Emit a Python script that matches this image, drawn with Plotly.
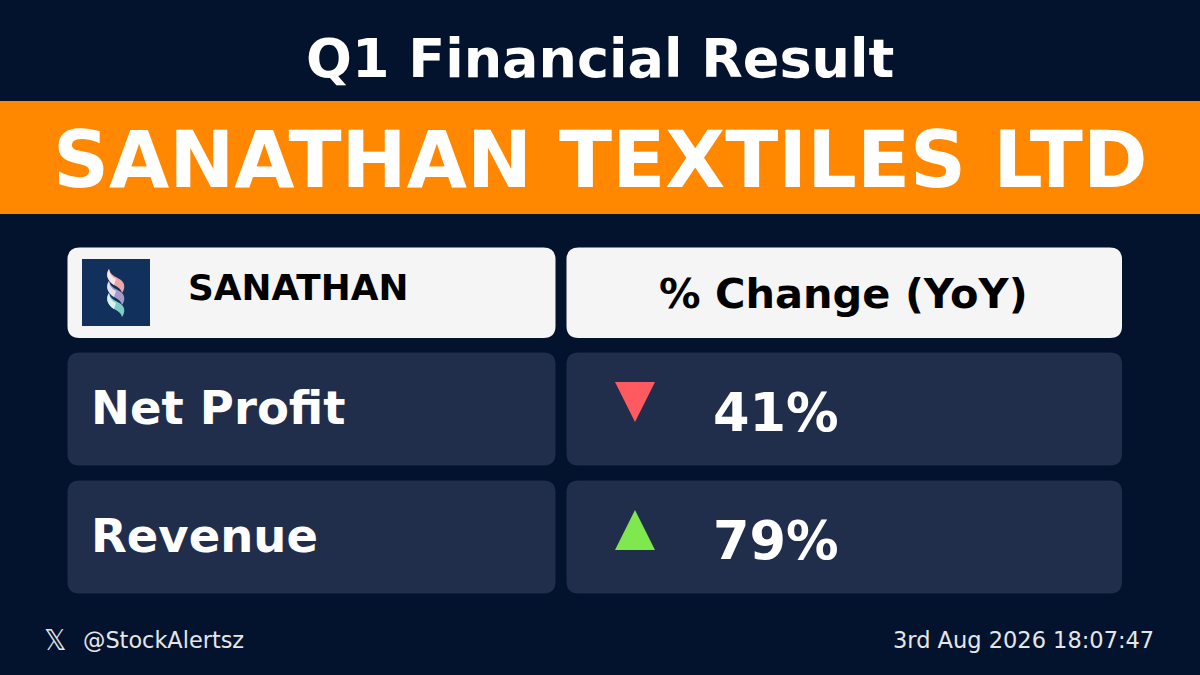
import plotly.graph_objects as go

BG = "#03132e"
ORANGE = "#ff8800"
CARD = "#202d4b"
LIGHT = "#f5f5f5"

title = "Q1 Financial Result"
company = "SANATHAN TEXTILES LTD"
ticker = "SANATHAN"
change_header = "% Change (YoY)"
metrics = ["Net Profit", "Revenue"]
changes = [41, 79]
directions = ["down", "up"]
handle = "@StockAlertsz"
stamp = "3rd Aug 2026 18:07:47"

fig = go.Figure()
shapes = []
annotations = []


def rrect(x0, y0, x1, y1, r, color):
    path = (f"M{x0+r},{y0} L{x1-r},{y0} Q{x1},{y0} {x1},{y0+r} L{x1},{y1-r} Q{x1},{y1} {x1-r},{y1} "
            f"L{x0+r},{y1} Q{x0},{y1} {x0},{y1-r} L{x0},{y0+r} Q{x0},{y0} {x0+r},{y0} Z")
    shapes.append(dict(type="path", path=path, fillcolor=color, line_width=0, layer="below"))


def text(x, y, s, size, color="#ffffff", anchor="left", bold=True, family="DejaVu Sans"):
    annotations.append(dict(x=x, y=y, text=f"<b>{s}</b>" if bold else s, showarrow=False,
                            xanchor=anchor, yanchor="middle", xref="x", yref="y",
                            font=dict(family=family, size=size, color=color)))


shapes.append(dict(type="rect", x0=0, x1=1200, y0=101, y1=214, fillcolor=ORANGE, line_width=0, layer="below"))
text(600, 58, title, 54, anchor="center")
text(600, 159.5, company, 77.8, anchor="center")

rrect(67.5, 247.5, 555.5, 338, 12, LIGHT)
rrect(566.5, 247.5, 1122, 338, 12, LIGHT)
shapes.append(dict(type="rect", x0=82, x1=150, y0=259, y1=326, fillcolor="#11305c", line_width=0))
text(186, 287.5, ticker, 35.8, color="#000000")
text(843.5, 293.5, change_header, 41.5, color="#000000", anchor="center")


def strand(d, main, pale):
    shapes.append(dict(type="path", fillcolor=main, line_width=0,
                       path=f"M109,{269+d} C105,{275+d} 108,{281+d} 114,{285+d} C118,{287+d} 121,{289+d} 122,{293+d} "
                            f"C125,{289+d} 125,{284+d} 122,{281+d} C118,{277+d} 110,{276+d} 109,{269+d} Z"))
    shapes.append(dict(type="path", fillcolor=pale, line_width=0,
                       path=f"M109,{269+d} C105,{275+d} 108,{281+d} 114,{285+d} L116,{279+d} C112,{277+d} 110,{275+d} 109,{269+d} Z"))


strand(0, "#eda5a8", "#f8e6e6")
strand(12, "#a79ac6", "#e4e0ee")
strand(24, "#7fcbc6", "#dcf1ee")

row_y0 = [352.5, 480.5]
row_y1 = [465.5, 593.5]
for i, m in enumerate(metrics):
    rrect(67.5, row_y0[i], 555.5, row_y1[i], 12, CARD)
    rrect(566.5, row_y0[i], 1122, row_y1[i], 12, CARD)
    text(89, row_y0[i] + 55.5, m, 46.5)
    text(711, row_y0[i] + 60, f"{changes[i]}%", 52.5)
    top = 382 if i == 0 else 510
    if directions[i] == "down":
        xs, ys, col = [615, 655, 635, 615], [top, top, top + 40, top], "#ff5a5f"
    else:
        xs, ys, col = [615, 655, 635, 615], [top + 40, top + 40, top, top + 40], "#7ee84e"
    fig.add_trace(go.Scatter(x=xs, y=ys, mode="lines", fill="toself", fillcolor=col,
                             line=dict(width=0, color=col), hoverinfo="skip", showlegend=False))

text(55, 640, "𝕏", 28, color="#e6e6e6", anchor="center", bold=False)
text(81, 640, handle, 22.4, color="#e6e6e6", bold=False)
text(1156, 640, stamp, 22.5, color="#e6e6e6", anchor="right", bold=False)

fig.update_layout(
    width=1200, height=675, autosize=False,
    margin=dict(l=0, r=0, t=0, b=0),
    paper_bgcolor=BG, plot_bgcolor=BG,
    shapes=shapes, annotations=annotations, showlegend=False,
    xaxis=dict(range=[0, 1200], visible=False, fixedrange=True),
    yaxis=dict(range=[675, 0], visible=False, fixedrange=True),
)
fig.write_html("out.html", config={"displayModeBar": False},
               post_script="document.documentElement.style.background='#03132e';document.body.style.margin='0';document.body.style.overflow='hidden';")
